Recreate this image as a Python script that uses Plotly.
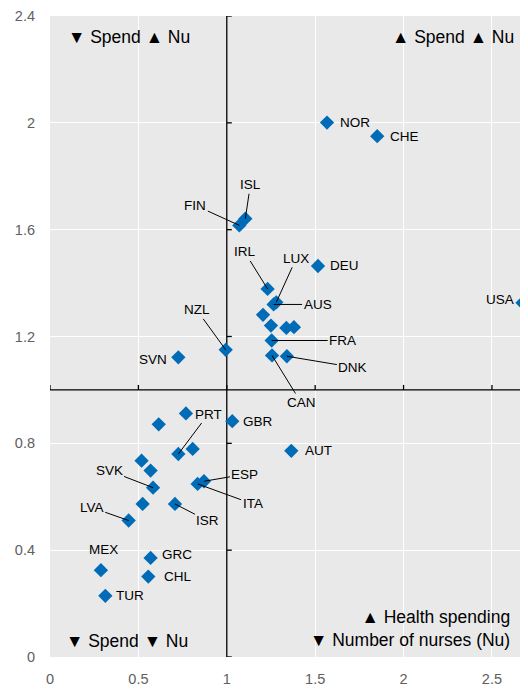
import plotly.graph_objects as go

# Ratio to OECD average (x = health spending, y = number of nurses)
countries = ["NOR", "CHE", "USA", "DEU", "AUT", "FIN", "ISL", "IRL", "LUX", "AUS",
             "", "", "", "", "FRA", "CAN", "DNK", "NZL", "SVN", "GBR",
             "", "", "PRT", "", "", "", "SVK", "", "LVA", "ISR",
             "ESP", "ITA", "MEX", "GRC", "CHL", "TUR"]
spend_ratio = [1.567, 1.851, 2.673, 1.516, 1.365, 1.071, 1.105, 1.231, 1.280, 1.265,
               1.205, 1.250, 1.337, 1.380, 1.254, 1.256, 1.340, 0.994, 0.726, 1.031,
               0.769, 0.615, 0.726, 0.807, 0.518, 0.569, 0.583, 0.524, 0.445, 0.707,
               0.871, 0.835, 0.288, 0.569, 0.556, 0.313]
nurses_ratio = [2.001, 1.950, 1.326, 1.464, 0.772, 1.616, 1.641, 1.378, 1.328, 1.320,
                1.281, 1.241, 1.232, 1.235, 1.185, 1.129, 1.126, 1.150, 1.122, 0.883,
                0.912, 0.871, 0.760, 0.779, 0.735, 0.698, 0.634, 0.573, 0.511, 0.573,
                0.658, 0.648, 0.325, 0.371, 0.301, 0.229]

x_ticks = [0, 0.5, 1, 1.5, 2, 2.5]
x_ticktext = ["0", "0.5", "1", "1.5", "2", "2.5"]
y_ticks = [0, 0.4, 0.8, 1.2, 1.6, 2.0, 2.4]
y_ticktext = ["0", "0.4", "0.8", "1.2", "1.6", "2", "2.4"]

X_MAX = 2.704
Y_MAX = 2.4
FONT = "Liberation Sans, Arial, sans-serif"
BLUE = "#006BB6"

# label placement: offset of the label centre from the point (px, y down), leader line?
label_pos = {
    "NOR": (28, 0, False), "CHE": (27, 0, False), "USA": (-23, -3, False),
    "DEU": (27, 0, False), "AUT": (27, 0, False), "SVN": (-25, 2, False),
    "GBR": (26, 0, False), "GRC": (26, -3, False), "CHL": (29, 0, False),
    "TUR": (25, 0, False), "MEX": (3, -21, False),
    "ISL": (5, -34, True), "FIN": (-44, -20, True), "IRL": (-23, -37, True),
    "LUX": (20, -44, True), "AUS": (44, 0, True), "FRA": (71, 0, True),
    "DNK": (66, 11, True), "CAN": (29, 47, True), "NZL": (-29, -40, True),
    "PRT": (30, -40, True), "SVK": (-44, -17, True), "LVA": (-37, -13, True),
    "ISR": (33, 17, True), "ESP": (41, -7, True), "ITA": (55, 20, True),
}

fig = go.Figure()
fig.add_trace(go.Scatter(
    x=spend_ratio, y=nurses_ratio, text=countries, mode="markers",
    marker=dict(symbol="diamond", size=11, color=BLUE),
    hoverinfo="text+x+y", showlegend=False, cliponaxis=False,
))

annotations = []
for c, xv, yv in zip(countries, spend_ratio, nurses_ratio):
    if c not in label_pos:
        continue
    dx, dy, line = label_pos[c]
    lbl_font = dict(size=13.5, color="black", family=FONT)
    if line:
        annotations.append(dict(x=xv, y=yv, text=c, showarrow=True, ax=dx, ay=dy,
                                arrowhead=0, arrowwidth=1, arrowcolor="black", standoff=0,
                                font=lbl_font))
    else:
        annotations.append(dict(x=xv, y=yv, text=c, showarrow=False, xshift=dx, yshift=-dy,
                                font=lbl_font))

# quadrant notes
quad_font = dict(size=17.5, color="black", family=FONT)
annotations += [
    dict(xref="paper", yref="paper", x=0.033, y=0.968, text="▼ Spend ▲ Nu",
         showarrow=False, xanchor="left", yanchor="middle", font=quad_font),
    dict(xref="paper", yref="paper", x=0.9755, y=0.968, text="▲ Spend ▲ Nu",
         showarrow=False, xanchor="right", yanchor="middle", font=quad_font),
    dict(xref="paper", yref="paper", x=0.029, y=0.025, text="▼ Spend ▼ Nu",
         showarrow=False, xanchor="left", yanchor="middle", font=quad_font),
    dict(xref="paper", yref="paper", x=0.967, y=0.045,
         text="▲ Health spending<br>▼ Number of nurses (Nu)", align="right",
         showarrow=False, xanchor="right", yanchor="middle", font=quad_font),
]

# axes crossing at the OECD average (1, 1)
shapes = [
    dict(type="line", xref="x", yref="y", x0=1, x1=1, y0=0, y1=Y_MAX,
         line=dict(color="black", width=1.3), layer="between"),
    dict(type="line", xref="x", yref="y", x0=0, x1=X_MAX, y0=1, y1=1,
         line=dict(color="black", width=1.3), layer="between"),
]
for t in y_ticks:
    shapes.append(dict(type="line", xref="x", yref="y", xsizemode="pixel", xanchor=1,
                       x0=0, x1=5, y0=t, y1=t, line=dict(color="black", width=1.3),
                       layer="between"))
for t in x_ticks:
    shapes.append(dict(type="line", xref="x", yref="y", ysizemode="pixel", yanchor=1,
                       x0=t, x1=t, y0=0, y1=5, line=dict(color="black", width=1.3),
                       layer="between"))

# the page body has an 8px margin, so the figure is sized to fit the window
fig.update_layout(
    width=520, height=679,
    margin=dict(l=42, r=0, t=6, b=30),
    plot_bgcolor="#E9E9E9", paper_bgcolor="white",
    font=dict(family=FONT, size=14.5, color="#606060"),
    annotations=annotations, shapes=shapes,
    xaxis=dict(range=[0, X_MAX], tickvals=x_ticks, ticktext=x_ticktext,
               showgrid=True, gridcolor="white", gridwidth=1.2, zeroline=False,
               showline=False, ticks="", ticklabelstandoff=11, fixedrange=True,
               ticklabeloverflow="allow"),
    yaxis=dict(range=[0, Y_MAX], tickvals=y_ticks, ticktext=y_ticktext,
               showgrid=True, gridcolor="white", gridwidth=1.2, zeroline=False,
               showline=False, ticks="", ticklabelstandoff=14, fixedrange=True,
               ticklabeloverflow="allow"),
)

fig.write_html("out.html")
